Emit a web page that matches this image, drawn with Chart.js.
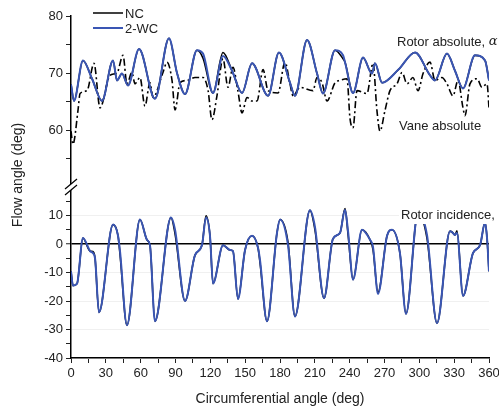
<!DOCTYPE html>
<html>
<head>
<meta charset="utf-8">
<script src="https://cdn.jsdelivr.net/npm/chart.js@4/dist/chart.umd.min.js"></script>
<style>
  html, body { margin: 0; padding: 0; background: #fff; }
  #wrap { width: 499px; height: 410px; }
</style>
</head>
<body>
<div id="wrap"><canvas id="chart" width="499" height="410"></canvas></div>
<script>
// Rotor absolute flow angle (upper panel)
const rotorAbsAngle = [0, 2.6, 10.3, 18.1, 26.7, 36.2, 39.6, 43.9, 49.1, 58.6,
  72.3, 84.4, 91.3, 98.2, 108.5, 113.7, 122.3, 130.9, 138.7, 147.3,
  155.9, 169.7, 179.1, 188.6, 192.9, 203.3, 211.9, 217.0, 227.4, 234.3,
  236.0, 242.9, 251.5, 259.2, 261.8, 267.9, 282.0, 296.3, 309.2, 313.5,
  323.8, 330.7, 337.6, 347.9, 356.6, 360];
const rotorAbs2WC = [68.0, 65.1, 72.2, 69.0, 65.1, 72.2, 68.7, 69.9, 67.8, 74.2,
  65.5, 76.1, 70.0, 66.3, 74.0, 73.4, 66.5, 73.0, 70.4, 66.5,
  71.7, 66.0, 73.6, 68.3, 66.0, 75.8, 69.9, 66.4, 74.0, 73.1,
  71.9, 66.5, 72.7, 69.9, 71.7, 68.3, 70.6, 73.6, 69.6, 68.7,
  73.4, 70.4, 67.3, 73.1, 72.2, 68.7];
const rotorAbsNC = [68.0, 65.1, 72.2, 69.0, 65.1, 72.2, 68.7, 69.9, 67.8, 74.2,
  65.5, 76.1, 70.0, 66.3, 74.0, 72.6, 66.5, 73.6, 70.4, 66.5,
  71.7, 66.0, 73.6, 68.3, 66.0, 75.8, 69.9, 66.4, 74.0, 72.5,
  71.9, 66.5, 72.7, 69.9, 71.7, 68.3, 70.6, 73.6, 69.6, 68.7,
  73.4, 70.4, 67.3, 73.1, 72.2, 68.7];

// Vane absolute flow angle (dash-dot)
const vaneAbsAngle = [0, 1.7, 6.0, 7.8, 13.8, 19.8, 25.0, 33.6, 39.6, 44.8,
  48.2, 52.5, 55.1, 59.4, 63.7, 68.0, 70.6, 79.2, 82.7, 87.0,
  89.6, 93.9, 99.9, 106.8, 113.7, 118.0, 121.4, 125.7, 130.9, 135.2,
  139.5, 143.8, 147.3, 151.6, 155.9, 160.2, 165.4, 169.7, 178.3, 184.3,
  188.6, 191.2, 197.2, 208.4, 211.9, 216.2, 220.5, 227.4, 231.7, 237.7,
  240.3, 242.9, 246.3, 254.9, 260.1, 263.5, 266.1, 270.4, 274.7, 280.8,
  285.1, 289.4, 294.5, 298.9, 303.2, 309.2, 313.5, 319.5, 323.8, 329.0,
  333.3, 337.6, 339.3, 343.6, 349.7, 353.9, 358.3, 360];
const vaneAbs = [59.8, 57.5, 63.4, 66.4, 66.9, 71.7, 63.9, 69.6, 70.0, 73.1,
  68.1, 70.1, 68.1, 69.2, 64.2, 68.3, 65.7, 70.1, 71.9, 68.7,
  63.5, 68.3, 68.7, 69.2, 69.2, 67.0, 61.8, 66.0, 72.5, 67.5,
  71.0, 66.8, 63.0, 65.7, 65.1, 65.1, 70.6, 66.9, 66.5, 71.9,
  68.1, 66.0, 67.5, 66.9, 69.2, 68.3, 65.1, 68.3, 68.7, 69.0,
  62.0, 60.4, 66.9, 66.4, 71.7, 63.4, 59.8, 63.4, 66.9, 68.1,
  70.1, 68.1, 69.2, 66.9, 69.9, 71.9, 68.7, 69.2, 68.1, 66.0,
  68.7, 63.9, 62.5, 68.1, 69.0, 67.5, 68.1, 63.9];

// Rotor incidence (lower panel)
const incAngle = [0, 1.7, 5.2, 10.3, 16.4, 18.9, 20.7, 24.1, 36.2, 40.5,
  42.2, 48.2, 59.4, 65.5, 68.0, 72.3, 86.1, 89.6, 98.2, 106.8,
  112.8, 116.3, 119.7, 122.3, 130.9, 136.9, 139.5, 143.8, 149.9, 155.9,
  161.1, 162.8, 168.8, 177.4, 180.0, 186.9, 192.9, 205.8, 210.1, 217.9,
  225.6, 231.7, 236.0, 238.6, 242.9, 250.6, 257.5, 260.1, 264.4, 272.2,
  276.5, 283.3, 288.5, 298.9, 306.6, 315.2, 326.4, 328.1, 330.7, 332.4,
  337.6, 346.2, 352.3, 356.6, 358.3, 360];
const inc2WC = [-9.6, -14.6, -13.9, 2.1, -2.5, -3.2, -5.0, -24.0, 6.8, 2.9,
  -2.5, -28.5, 8.6, 1.4, -0.4, -27.1, 9.3, 5.0, -20.0, -3.9,
  -0.4, 9.3, 2.9, -13.9, -0.4, -2.1, -2.5, -19.3, -2.1, 2.9,
  -1.4, -5.7, -27.1, 3.9, 8.6, -0.4, -25.4, 11.8, 6.0, -19.0,
  1.8, 3.9, 12.0, 4.5, -12.5, 5.0, 1.5, -1.0, -17.5, 2.9,
  5.0, -3.2, -24.5, 11.0, 3.2, -27.8, 4.5, 4.2, 3.2, 3.9,
  -18.2, -3.2, -0.4, 7.5, 2.1, -9.6];
const incNC = [-9.6, -14.6, -13.9, 2.1, -2.5, -2.6, -5.0, -24.0, 6.8, 2.9,
  -3.6, -28.5, 8.6, 1.4, -0.4, -27.1, 9.3, 3.6, -20.0, -3.9,
  -0.4, 9.9, 2.9, -13.9, -0.4, -2.1, -2.5, -19.3, -2.1, 2.9,
  -1.4, -6.6, -27.1, 3.9, 8.6, 0.6, -25.4, 11.8, 5.0, -19.0,
  1.8, 3.9, 12.4, 3.4, -12.5, 5.0, 1.5, -2.0, -17.0, 2.9,
  5.0, -3.2, -24.5, 11.0, 2.0, -27.8, 4.5, 4.2, 3.2, 4.6,
  -18.2, -3.2, -0.4, 7.5, 2.1, -9.6];

const blue = '#3a56b4';
const font = '"Liberation Sans", Arial, sans-serif';

function pts(xs, ys) {
  return xs.map((x, i) => ({ x: x, y: ys[i] }));
}

const annotations = {
  id: 'annotations',
  afterDatasetsDraw(chart) {
    const ctx = chart.ctx;
    ctx.save();
    ctx.textBaseline = 'middle';
    const labels = [
      { text: 'Rotor absolute, ', sym: 'α', x: 397, y: 42 },
      { text: 'Vane absolute', sym: '', x: 399, y: 126 },
      { text: 'Rotor incidence, ', sym: 'i', x: 401, y: 215 }
    ];
    labels.forEach(l => {
      ctx.font = '13px ' + font;
      const w1 = ctx.measureText(l.text).width;
      ctx.font = 'italic 13px "DejaVu Serif", serif';
      const w2 = l.sym ? ctx.measureText(l.sym).width : 0;
      ctx.fillStyle = '#fff';
      ctx.fillRect(l.x - 2, l.y - 9, w1 + w2 + 4, 18);
      ctx.fillStyle = '#222';
      ctx.font = '13px ' + font;
      ctx.fillText(l.text, l.x, l.y);
      if (l.sym) {
        ctx.font = 'italic 13px "DejaVu Serif", serif';
        ctx.fillText(l.sym, l.x + w1, l.y);
      }
    });

    // legend
    const items = [
      { label: 'NC', color: '#000', width: 1.5, y: 13 },
      { label: '2-WC', color: blue, width: 2, y: 28 }
    ];
    ctx.font = '13px ' + font;
    items.forEach(it => {
      ctx.strokeStyle = it.color;
      ctx.lineWidth = it.width;
      ctx.beginPath();
      ctx.moveTo(93, it.y);
      ctx.lineTo(123, it.y);
      ctx.stroke();
      ctx.fillStyle = '#222';
      ctx.fillText(it.label, 125, it.y + 1);
    });
    ctx.restore();
  },
  afterDraw(chart) {
    const ctx = chart.ctx;
    const top = chart.scales.yTop;
    const xa = chart.chartArea.left;
    const yb = top.bottom;
    ctx.save();
    // axis break
    ctx.fillStyle = '#fff';
    ctx.fillRect(xa - 8, yb - 3, 12, 6);
    ctx.strokeStyle = '#000';
    ctx.lineWidth = 1.2;
    [-3, 3].forEach(d => {
      ctx.beginPath();
      ctx.moveTo(xa - 6, yb + d + 5);
      ctx.lineTo(xa + 6, yb + d - 5);
      ctx.stroke();
    });
    // y title
    ctx.translate(18, 175);
    ctx.rotate(-Math.PI / 2);
    ctx.fillStyle = '#222';
    ctx.font = '14px ' + font;
    ctx.textAlign = 'center';
    ctx.textBaseline = 'middle';
    ctx.fillText('Flow angle (deg)', 0, 0);
    ctx.restore();
  }
};

const tickFont = { family: font, size: 13 };

new Chart(document.getElementById('chart'), {
  type: 'line',
  data: {
    datasets: [
      { label: '2-WC', data: pts(rotorAbsAngle, rotorAbs2WC), yAxisID: 'yTop',
        borderColor: blue, borderWidth: 2, order: 0 },
      { label: 'NC', data: pts(rotorAbsAngle, rotorAbsNC), yAxisID: 'yTop',
        borderColor: '#000', borderWidth: 1.6, order: 2 },
      { label: 'Vane absolute', data: pts(vaneAbsAngle, vaneAbs), yAxisID: 'yTop',
        borderColor: '#000', borderWidth: 1.6, borderDash: [7, 3, 2, 3], order: 3 },
      { label: '2-WC incidence', data: pts(incAngle, inc2WC), yAxisID: 'yBot',
        borderColor: blue, borderWidth: 2, order: 0 },
      { label: 'NC incidence', data: pts(incAngle, incNC), yAxisID: 'yBot',
        borderColor: '#000', borderWidth: 1.6, order: 2 }
    ]
  },
  options: {
    responsive: false,
    animation: false,
    elements: {
      point: { radius: 0 },
      line: { cubicInterpolationMode: 'monotone', fill: false }
    },
    layout: { padding: { left: 0, top: 16, right: 10, bottom: 0 } },
    plugins: { legend: { display: false }, tooltip: { enabled: false } },
    scales: {
      x: {
        type: 'linear', min: 0, max: 360,
        border: { color: '#000', width: 1.5 },
        grid: { drawOnChartArea: false, tickLength: 5, tickColor: '#222' },
        ticks: { stepSize: 15, autoSkip: false, maxRotation: 0, color: '#222', font: tickFont,
          callback: v => (v % 30 === 0 ? v : '') },
        title: { display: true, text: 'Circumferential angle (deg)', color: '#222',
          font: { family: font, size: 14 }, padding: { top: 2, bottom: 2 } },
        afterFit: s => { s.height = 52; s.paddingRight = 0; s.paddingLeft = 0; }
      },
      // lower panel is listed first so that it is stacked below the upper one
      yBot: {
        type: 'linear', position: 'left', stack: 'flow', stackWeight: 170,
        min: -40, max: 20,
        border: { color: '#000', width: 1.5 },
        grid: {
          color: c => (c.tick && c.tick.value === 0 ? '#000' :
            (c.tick && c.tick.value % 10 === 0 && c.tick.value < 20 ? '#f0f0f0' : 'transparent')),
          lineWidth: c => (c.tick && c.tick.value === 0 ? 1.5 : 1),
          tickLength: 5, tickColor: '#222', tickWidth: 1
        },
        ticks: { stepSize: 5, autoSkip: false, color: '#222', font: tickFont,
          callback: v => (v % 10 === 0 && v < 20 ? v : '') },
        afterFit: s => { s.width = 71; }
      },
      yTop: {
        type: 'linear', position: 'left', stack: 'flow', stackWeight: 170,
        min: 50, max: 80,
        border: { color: '#000', width: 1.5 },
        grid: { color: 'transparent', tickLength: 5, tickColor: '#222' },
        ticks: { stepSize: 5, autoSkip: false, color: '#222', font: tickFont,
          callback: v => (v % 10 === 0 && v >= 60 ? v : '') },
        afterFit: s => { s.width = 71; }
      }
    }
  },
  plugins: [annotations]
});
</script>
</body>
</html>
